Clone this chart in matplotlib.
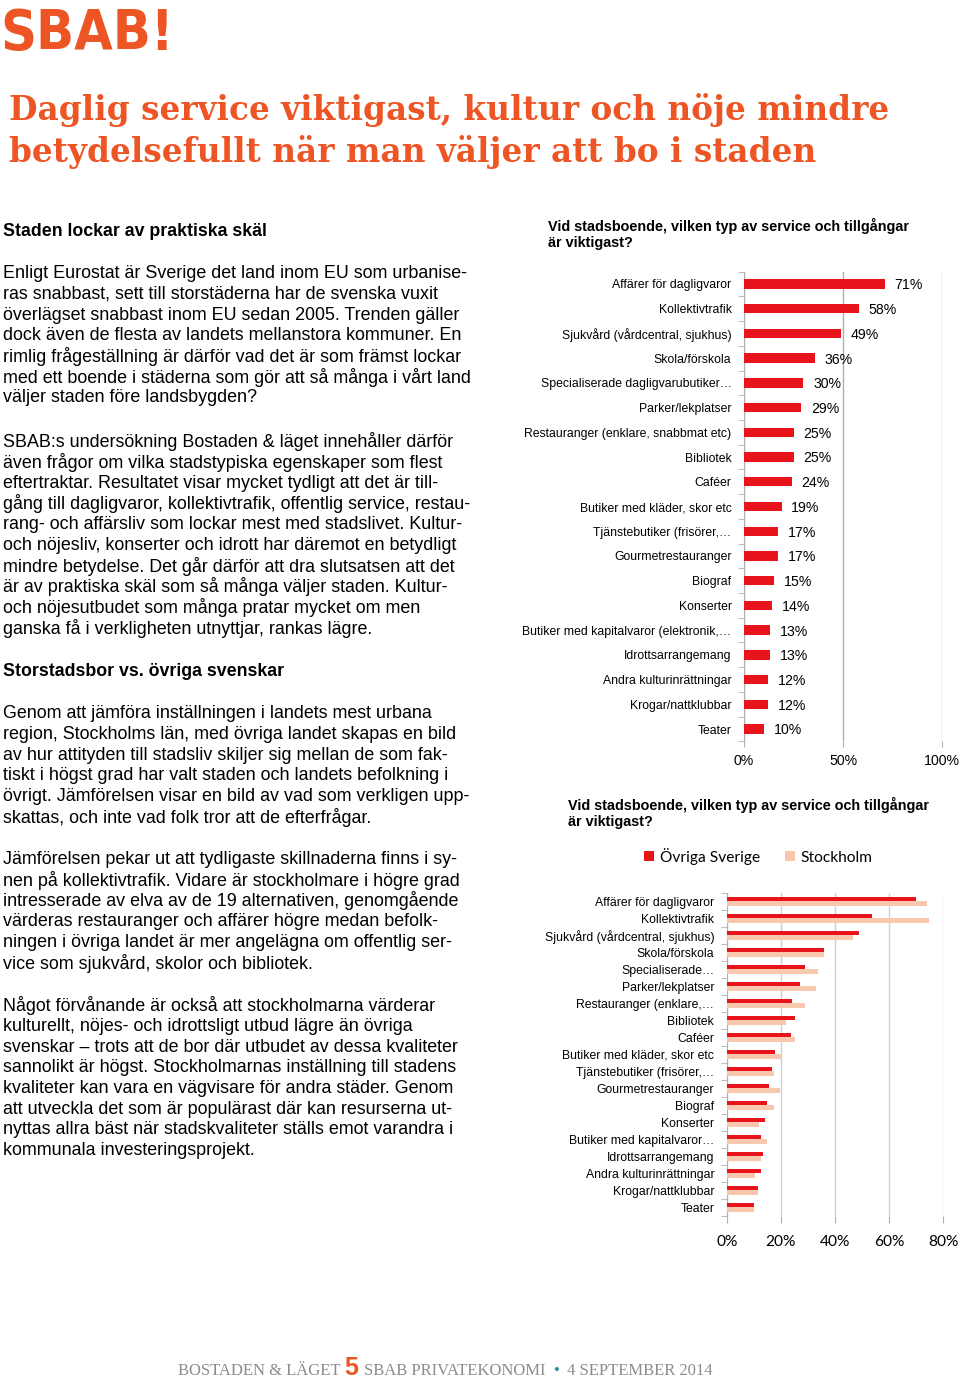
import matplotlib
matplotlib.use('Agg')
import matplotlib.pyplot as plt
import numpy as np
from matplotlib import font_manager

# Data
categories = [
    'Affärer för dagligvaror', 'Kollektivtrafik', 'Sjukvård (vårdcentral, sjukhus)',
    'Skola/förskola', 'Specialiserade dagligvarubutiker…', 'Parker/lekplatser',
    'Restauranger (enklare, snabbmat etc)', 'Bibliotek', 'Caféer',
    'Butiker med kläder, skor etc', 'Tjänstebutiker (frisörer,…', 'Gourmetrestauranger',
    'Biograf', 'Konserter', 'Butiker med kapitalvaror (elektronik,…',
    'Idrottsarrangemang', 'Andra kulturinrättningar', 'Krogar/nattklubbar', 'Teater',
]
categories_short = [
    'Affärer för dagligvaror', 'Kollektivtrafik', 'Sjukvård (vårdcentral, sjukhus)',
    'Skola/förskola', 'Specialiserade…', 'Parker/lekplatser',
    'Restauranger (enklare,…', 'Bibliotek', 'Caféer',
    'Butiker med kläder, skor etc', 'Tjänstebutiker (frisörer,…', 'Gourmetrestauranger',
    'Biograf', 'Konserter', 'Butiker med kapitalvaror…',
    'Idrottsarrangemang', 'Andra kulturinrättningar', 'Krogar/nattklubbar', 'Teater',
]
share_all = [71, 58, 49, 36, 30, 29, 25, 25, 24, 19, 17, 17, 15, 14, 13, 13, 12, 12, 10]
share_rest = [70, 53.5, 49, 36, 29, 27, 24.3, 25.3, 23.8, 17.9, 16.7, 15.8, 14.7, 14.2, 12.8, 13.3, 12.5, 11.7, 10.1]
share_sthlm = [74, 74.6, 46.7, 35.8, 33.6, 33, 28.8, 22, 25.2, 20.6, 17.5, 19.8, 17.5, 12.1, 14.9, 12.7, 10.5, 11.4, 9.9]
ticks1 = [0, 50, 100]
ticks2 = [0, 20, 40, 60, 80]

title_lines = ['Daglig service viktigast, kultur och nöje mindre',
               'betydelsefullt när man väljer att bo i staden']
chart_title = ['Vid stadsboende, vilken typ av service och tillgångar', 'är viktigast?']

heading1 = 'Staden lockar av praktiska skäl'
heading2 = 'Storstadsbor vs. övriga svenskar'
paragraphs = [
    (272, ['Enligt Eurostat är Sverige det land inom EU som urbanise-',
           'ras snabbast, sett till storstäderna har de svenska vuxit',
           'överlägset snabbast inom EU sedan 2005. Trenden gäller',
           'dock även de flesta av landets mellanstora kommuner. En',
           'rimlig frågeställning är därför vad det är som främst lockar',
           'med ett boende i städerna som gör att så många i vårt land',
           'väljer staden före landsbygden?']),
    (440, ['SBAB:s undersökning Bostaden & läget innehåller därför',
           'även frågor om vilka stadstypiska egenskaper som flest',
           'eftertraktar. Resultatet visar mycket tydligt att det är till-',
           'gång till dagligvaror, kollektivtrafik, offentlig service, restau-',
           'rang- och affärsliv som lockar mest med stadslivet. Kultur-',
           'och nöjesliv, konserter och idrott har däremot en betydligt',
           'mindre betydelse. Det går därför att dra slutsatsen att det',
           'är av praktiska skäl som så många väljer staden. Kultur-',
           'och nöjesutbudet som många pratar mycket om men',
           'ganska få i verkligheten utnyttjar, rankas lägre.']),
    (712, ['Genom att jämföra inställningen i landets mest urbana',
           'region, Stockholms län, med övriga landet skapas en bild',
           'av hur attityden till stadsliv skiljer sig mellan de som fak-',
           'tiskt i högst grad har valt staden och landets befolkning i',
           'övrigt. Jämförelsen visar en bild av vad som verkligen upp-',
           'skattas, och inte vad folk tror att de efterfrågar.']),
    (858, ['Jämförelsen pekar ut att tydligaste skillnaderna finns i sy-',
           'nen på kollektivtrafik. Vidare är stockholmare i högre grad',
           'intresserade av elva av de 19 alternativen, genomgående',
           'värderas restauranger och affärer högre medan befolk-',
           'ningen i övriga landet är mer angelägna om offentlig ser-',
           'vice som sjukvård, skolor och bibliotek.']),
    (1004, ['Något förvånande är också att stockholmarna värderar',
            'kulturellt, nöjes- och idrottsligt utbud lägre än övriga',
            'svenskar – trots att de bor där utbudet av dessa kvaliteter',
            'sannolikt är högst. Stockholmarnas inställning till stadens',
            'kvaliteter kan vara en vägvisare för andra städer. Genom',
            'att utveckla det som är populärast där kan resurserna ut-',
            'nyttas allra bäst när stadskvaliteter ställs emot varandra i',
            'kommunala investeringsprojekt.']),
]

ORANGE = '#EE5524'
RED = '#E8141B'
PEACH = '#F8C8AE'
GRID = '#B0B0B0'
W, H = 960, 1380


def fx(x):
    return x / W


def fy(y):
    return 1 - y / H


installed = {f.name for f in font_manager.fontManager.ttflist}
SANS = 'Liberation Sans'
SERIF = 'Liberation Serif'
CAL = 'Lato' if 'Lato' in installed else 'DejaVu Sans'

fig = plt.figure(figsize=(9.6, 13.8), dpi=100)

# logo and title
fig.text(fx(0), fy(34), 'SBAB!', fontsize=40, color=ORANGE, family='DejaVu Sans',
         fontstretch='condensed', fontweight='bold', va='center', ha='left')
for i, line in enumerate(title_lines):
    fig.text(fx(9), fy(110 + 42 * i), line, fontsize=23.6, color=ORANGE, family='DejaVu Serif',
             fontweight='bold', va='center', ha='left')

# body text
fig.text(fx(3), fy(232), heading1, fontsize=12.8, fontweight='bold', family=SANS, va='center')
fig.text(fx(3), fy(671), heading2, fontsize=12.8, fontweight='bold', family=SANS, va='center')
for y0, lines in paragraphs:
    for i, line in enumerate(lines):
        fig.text(fx(3), fy(y0 + 1.5 + 20.75 * i), line, fontsize=12.9, family=SANS, va='center')

n = len(categories)
y = np.arange(n)

# chart 1
for i, line in enumerate(chart_title):
    fig.text(fx(548), fy(226 + 17 * i), line, fontsize=10.4, fontweight='bold', family=SANS, va='center')

ax1 = fig.add_axes([fx(744), fy(741.4), 198 / W, (741.4 - 271.6) / H])
ax1.barh(y, share_all, height=0.38, color=RED, zorder=3)
ax1.set_xlim(0, 100)
ax1.set_ylim(n - 0.5, -0.5)
ax1.set_xticks(ticks1)
ax1.set_xticklabels([f'{t}%' for t in ticks1], family=SANS, fontsize=10.2)
ax1.set_yticks(y)
ax1.set_yticklabels(categories, family=SANS, fontsize=8.8)
ax1.set_yticks(np.arange(n + 1) - 0.5, minor=True)
ax1.tick_params(axis='y', which='major', length=0, pad=9)
ax1.tick_params(axis='y', which='minor', length=4, color=GRID, direction='out')
ax1.tick_params(axis='x', length=4, color=GRID, pad=5)
ax1.xaxis.grid(True, color=GRID, lw=1, zorder=0)
for s in ['top', 'right', 'bottom']:
    ax1.spines[s].set_visible(False)
ax1.spines['left'].set_color(GRID)
for i, v in enumerate(share_all):
    ax1.annotate(f'{v}%', (v, i), xytext=(7, -1), textcoords='offset points',
                 va='center', ha='left', fontsize=10.2, family=SANS)

# chart 2
for i, line in enumerate(chart_title):
    fig.text(fx(568), fy(805 + 17 * i), line, fontsize=10.4, fontweight='bold', family=SANS, va='center')

ax2 = fig.add_axes([fx(726.7), fy(1216), (943.3 - 726.7) / W, (1216 - 892.8) / H])
b1 = ax2.barh(y - 0.14, share_rest, height=0.28, color=RED, zorder=3)
b2 = ax2.barh(y + 0.14, share_sthlm, height=0.28, color=PEACH, zorder=3)
ax2.set_xlim(0, 80)
ax2.set_ylim(n - 0.5, -0.5)
ax2.set_xticks(ticks2)
ax2.set_xticklabels([f'{t}%' for t in ticks2], family=CAL, fontsize=11.2)
ax2.set_yticks(y)
ax2.set_yticklabels(categories_short, family=SANS, fontsize=8.8)
ax2.set_yticks(np.arange(n + 1) - 0.5, minor=True)
ax2.tick_params(axis='y', which='major', length=0, pad=9)
ax2.tick_params(axis='y', which='minor', length=4, color=GRID, direction='out')
ax2.tick_params(axis='x', length=5, color=GRID, pad=9)
ax2.xaxis.grid(True, color='#D0D0D0', lw=1, zorder=0)
for s in ['top', 'right', 'bottom']:
    ax2.spines[s].set_visible(False)
ax2.spines['left'].set_color(GRID)
ax2.legend([b1, b2], ['Övriga Sverige', 'Stockholm'], loc='center', ncol=2, frameon=False,
           bbox_to_anchor=(fx(758), fy(856)), bbox_transform=fig.transFigure,
           prop={'family': CAL, 'size': 11.2}, handlelength=0.65, handleheight=0.65,
           handletextpad=0.35, columnspacing=1.6)

# footer
FOOT = '#8C8C8C'
fig.text(fx(340), fy(1371), 'BOSTADEN & LÄGET', fontsize=12, color=FOOT, family=SERIF, va='center', ha='right')
fig.text(fx(351), fy(1368), '5', fontsize=18, color=ORANGE, family=SANS, fontweight='bold', va='center', ha='center')
fig.text(fx(364), fy(1371), 'SBAB PRIVATEKONOMI', fontsize=12, color=FOOT, family=SERIF, va='center', ha='left')
fig.text(fx(556), fy(1371), '•', fontsize=12, color='#2A8C9C', family=SERIF, va='center', ha='center')
fig.text(fx(567), fy(1371), '4 SEPTEMBER 2014', fontsize=12, color=FOOT, family=SERIF, va='center', ha='left')

fig.savefig('out.png', dpi=100, facecolor='white')
